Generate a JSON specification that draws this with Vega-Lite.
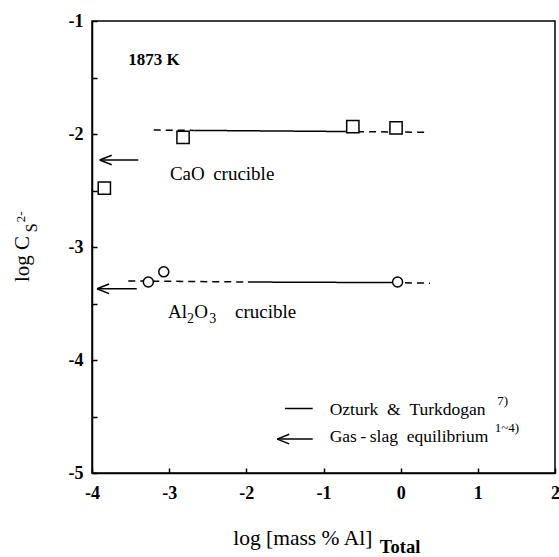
{
  "$schema": "https://vega.github.io/schema/vega-lite/v6.json",
  "width": 463,
  "height": 452,
  "autosize": "none",
  "padding": {"left": 92, "top": 21, "right": 4, "bottom": 84},
  "background": "white",
  "config": {
    "view": {"stroke": "black", "strokeWidth": 1.5},
    "font": "Liberation Serif"
  },
  "datasets": {
    "pts": [
      {"x": -3.84, "y": -2.48, "c": "CaO"},
      {"x": -2.82, "y": -2.03, "c": "CaO"},
      {"x": -0.62, "y": -1.935, "c": "CaO"},
      {"x": -0.06, "y": -1.945, "c": "CaO"},
      {"x": -3.27, "y": -3.31, "c": "Al2O3"},
      {"x": -3.07, "y": -3.22, "c": "Al2O3"},
      {"x": -0.04, "y": -3.31, "c": "Al2O3"}
    ],
    "lines": [
      {"seg": "caoL", "style": "dashed", "x": -3.2, "y": -1.965},
      {"seg": "caoL", "style": "dashed", "x": -2.67, "y": -1.968},
      {"seg": "caoM", "style": "solid", "x": -2.67, "y": -1.968},
      {"seg": "caoM", "style": "solid", "x": -0.72, "y": -1.978},
      {"seg": "caoR", "style": "dashed", "x": -0.72, "y": -1.978},
      {"seg": "caoR", "style": "dashed", "x": 0.35, "y": -1.985},
      {"seg": "alL", "style": "dashed", "x": -3.53, "y": -3.3},
      {"seg": "alL", "style": "dashed", "x": -1.98, "y": -3.31},
      {"seg": "alM", "style": "solid", "x": -1.98, "y": -3.31},
      {"seg": "alM", "style": "solid", "x": -0.1, "y": -3.315},
      {"seg": "alR", "style": "dashed", "x": -0.1, "y": -3.315},
      {"seg": "alR", "style": "dashed", "x": 0.38, "y": -3.32},
      {"seg": "leg", "style": "solid", "x": -1.5, "y": -4.43},
      {"seg": "leg", "style": "solid", "x": -1.14, "y": -4.43},
      {"seg": "ar1", "style": "solid", "x": -3.9, "y": -2.23},
      {"seg": "ar1", "style": "solid", "x": -3.4, "y": -2.23},
      {"seg": "ar2", "style": "solid", "x": -3.935, "y": -3.37},
      {"seg": "ar2", "style": "solid", "x": -3.42, "y": -3.37},
      {"seg": "ar3", "style": "solid", "x": -1.6, "y": -4.7},
      {"seg": "ar3", "style": "solid", "x": -1.14, "y": -4.7}
    ],
    "heads": [
      {"x": -3.9, "y": -2.23},
      {"x": -3.935, "y": -3.37},
      {"x": -1.6, "y": -4.7}
    ],
    "cru": [
      {"x": -2.99, "y": -2.41, "t": "CaO"},
      {"x": -2.43, "y": -2.41, "t": "crucible"},
      {"x": -3.015, "y": -3.628, "t": "Al"},
      {"x": -2.675, "y": -3.628, "t": "O"},
      {"x": -2.147, "y": -3.628, "t": "crucible"}
    ],
    "alsub": [
      {"x": -2.77, "y": -3.67, "t": "2"},
      {"x": -2.48, "y": -3.67, "t": "3"}
    ],
    "leg": [
      {"x": -0.92, "y": -4.49, "t": "Ozturk\u00a0\u00a0&\u00a0\u00a0Turkdogan"},
      {"x": -0.92, "y": -4.73, "t": "Gas\u2009-\u2009slag\u00a0\u00a0equilibrium"}
    ],
    "bold": [{"x": -3.53, "y": -1.39, "t": "1873 K"}],
    "sup": [
      {"x": 1.25, "y": -4.4, "t": "7)"},
      {"x": 1.22, "y": -4.64, "t": "1~4)"}
    ],
    "xt": [{"x": -2.17, "y": -5.64, "t": "log [mass % Al]"}],
    "xsub": [{"x": -0.27, "y": -5.71, "t": "Total"}],
    "yt": [{"x": -4.81, "y": -3.31, "t": "log C"}],
    "ysub": [{"x": -4.71, "y": -2.87, "t": "S"}],
    "ysup": [{"x": -4.87, "y": -2.78, "t": "2-"}]
  },
  "encoding": {
    "x": {
      "field": "x", "type": "quantitative",
      "scale": {"domain": [-4, 2], "nice": false, "zero": false},
      "axis": {
        "values": [-4, -3, -2, -1, 0, 1, 2],
        "labelExpr": "'' + datum.value",
        "title": null, "grid": false,
        "tickSize": -5, "labelPadding": 16,
        "labelFont": "Liberation Serif", "labelFontSize": 18, "labelFontWeight": "bold",
        "labelColor": "black", "domainColor": "black", "tickColor": "black",
        "domainWidth": 1.5, "tickWidth": 1.5,
        "labelOverlap": false, "labelFlush": false, "labelBound": false
      }
    },
    "y": {
      "field": "y", "type": "quantitative",
      "scale": {"domain": [-5, -1], "nice": false, "zero": false},
      "axis": {
        "values": [-5, -4.5, -4, -3.5, -3, -2.5, -2, -1.5, -1],
        "labelExpr": "floor(datum.value) == datum.value ? '' + datum.value : ''",
        "title": null, "grid": false,
        "tickSize": -5, "labelPadding": 14,
        "labelFont": "Liberation Serif", "labelFontSize": 18, "labelFontWeight": "bold",
        "labelColor": "black", "domainColor": "black", "tickColor": "black",
        "domainWidth": 1.5, "tickWidth": 1.5,
        "labelOverlap": false, "labelFlush": false, "labelBound": false
      }
    }
  },
  "layer": [
    {
      "data": {"name": "lines"},
      "mark": {"type": "line", "color": "black", "strokeWidth": 1.5},
      "encoding": {
        "detail": {"field": "seg"},
        "strokeDash": {
          "field": "style", "type": "nominal",
          "scale": {"domain": ["solid", "dashed"], "range": [[1, 0], [7, 5]]},
          "legend": null
        }
      }
    },
    {
      "data": {"name": "heads"},
      "mark": {"type": "point", "shape": "M 0 0 L 1 -0.4 M 0 0 L 1 0.4", "size": 576, "filled": false, "stroke": "black", "strokeWidth": 1.5, "opacity": 1}
    },
    {
      "data": {"name": "pts"},
      "transform": [{"filter": "datum.c == 'CaO'"}],
      "mark": {"type": "point", "shape": "square", "size": 150, "filled": true, "fill": "white", "stroke": "black", "strokeWidth": 1.5, "opacity": 1}
    },
    {
      "data": {"name": "pts"},
      "transform": [{"filter": "datum.c == 'Al2O3'"}],
      "mark": {"type": "point", "shape": "circle", "size": 100, "filled": true, "fill": "white", "stroke": "black", "strokeWidth": 1.5, "opacity": 1}
    },
    {
      "data": {"name": "cru"},
      "mark": {"type": "text", "font": "Liberation Serif", "color": "black", "align": "left", "baseline": "alphabetic", "fontSize": 19},
      "encoding": {"text": {"field": "t"}}
    },
    {
      "data": {"name": "alsub"},
      "mark": {"type": "text", "font": "Liberation Serif", "color": "black", "align": "left", "baseline": "alphabetic", "fontSize": 14},
      "encoding": {"text": {"field": "t"}}
    },
    {
      "data": {"name": "leg"},
      "mark": {"type": "text", "font": "Liberation Serif", "color": "black", "align": "left", "baseline": "alphabetic", "fontSize": 17.5},
      "encoding": {"text": {"field": "t"}}
    },
    {
      "data": {"name": "bold"},
      "mark": {"type": "text", "font": "Liberation Serif", "color": "black", "align": "left", "baseline": "alphabetic", "fontSize": 17, "fontWeight": "bold"},
      "encoding": {"text": {"field": "t"}}
    },
    {
      "data": {"name": "sup"},
      "mark": {"type": "text", "font": "Liberation Serif", "color": "black", "align": "left", "baseline": "alphabetic", "fontSize": 13},
      "encoding": {"text": {"field": "t"}}
    },
    {
      "data": {"name": "xt"},
      "mark": {"type": "text", "font": "Liberation Serif", "color": "black", "align": "left", "baseline": "alphabetic", "fontSize": 21.5},
      "encoding": {"text": {"field": "t"}}
    },
    {
      "data": {"name": "xsub"},
      "mark": {"type": "text", "font": "Liberation Serif", "color": "black", "align": "left", "baseline": "alphabetic", "fontSize": 18.5, "fontWeight": "bold"},
      "encoding": {"text": {"field": "t"}}
    },
    {
      "data": {"name": "yt"},
      "mark": {"type": "text", "font": "Liberation Serif", "color": "black", "align": "left", "baseline": "alphabetic", "fontSize": 21, "angle": 270},
      "encoding": {"text": {"field": "t"}}
    },
    {
      "data": {"name": "ysub"},
      "mark": {"type": "text", "font": "Liberation Serif", "color": "black", "align": "left", "baseline": "alphabetic", "fontSize": 16, "angle": 270},
      "encoding": {"text": {"field": "t"}}
    },
    {
      "data": {"name": "ysup"},
      "mark": {"type": "text", "font": "Liberation Serif", "color": "black", "align": "left", "baseline": "alphabetic", "fontSize": 13, "angle": 270},
      "encoding": {"text": {"field": "t"}}
    }
  ]
}
